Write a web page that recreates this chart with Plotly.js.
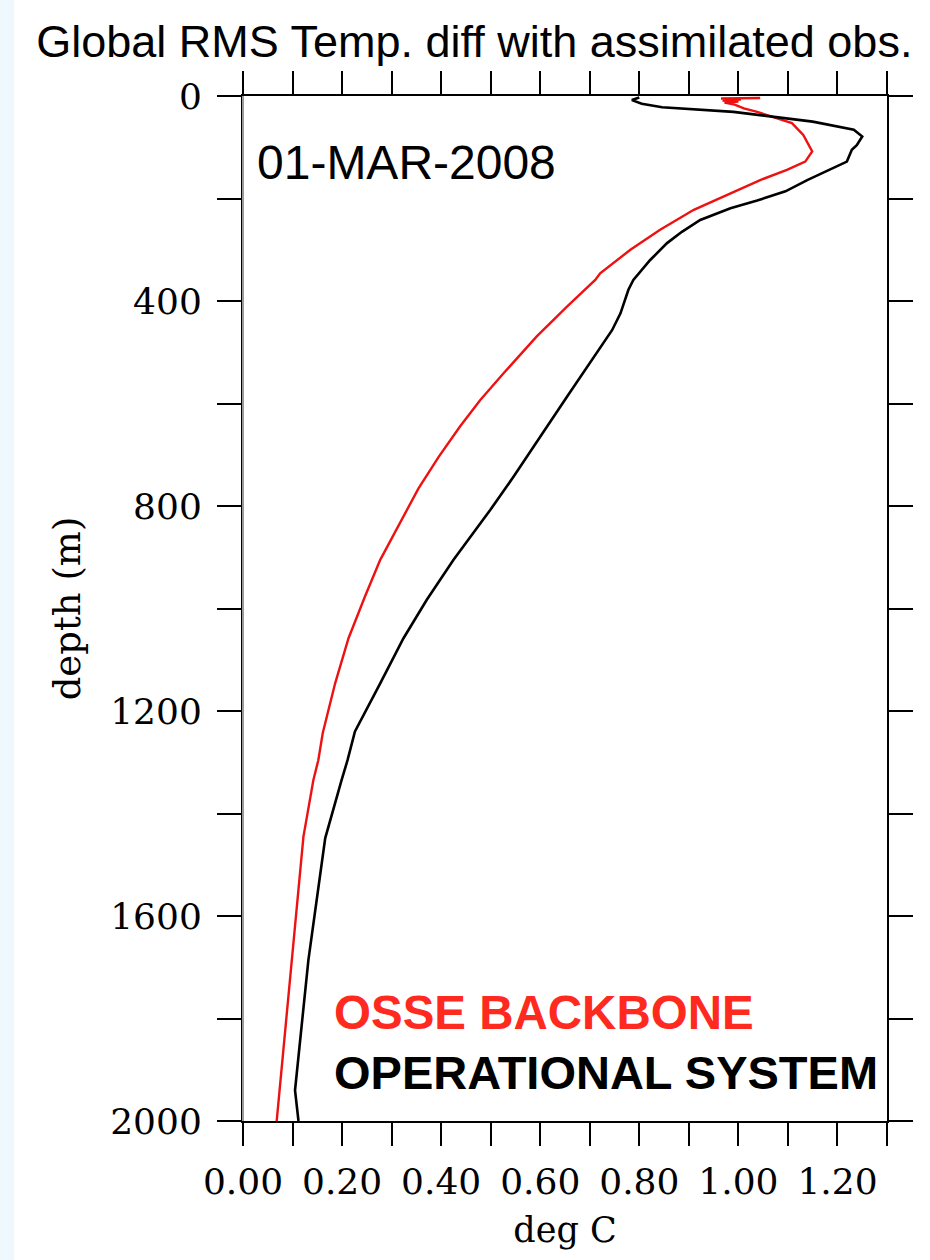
<!DOCTYPE html>
<html>
<head>
<meta charset="utf-8">
<script src="https://cdn.plot.ly/plotly-3.0.1.min.js"></script>
<style>
  html, body { margin: 0; padding: 0; }
  body { background: linear-gradient(to right, #eef8fd 14px, #ffffff 14px); width: 930px; height: 1260px; }
  #chart { width: 930px; height: 1260px; }
</style>
</head>
<body>
<div id="chart"></div>
<script>
// ---- Data ----
const chartTitle = "Global RMS Temp. diff with assimilated obs.";
const dateLabel = "01-MAR-2008";
const seriesNames = ["OSSE BACKBONE", "OPERATIONAL SYSTEM"];

// OSSE BACKBONE (red): RMS temperature difference (deg C) vs depth (m)
const osseDepth = [4, 5, 7, 9, 11, 13, 16, 24, 31, 43, 53, 76, 108, 128, 144, 164, 193, 222, 261, 300, 346, 359, 411, 469, 541, 593, 645, 704, 766, 827, 863, 905, 977, 1058, 1146, 1243, 1296, 1335, 1445, 1718, 2000];
const osseTemp  = [1.044, 0.965, 1.005, 0.968, 1.000, 0.972, 0.990, 1.011, 1.038, 1.078, 1.108, 1.131, 1.149, 1.135, 1.098, 1.044, 0.977, 0.910, 0.842, 0.782, 0.721, 0.711, 0.654, 0.593, 0.526, 0.479, 0.438, 0.395, 0.354, 0.320, 0.300, 0.277, 0.246, 0.213, 0.186, 0.161, 0.152, 0.142, 0.122, 0.095, 0.068];

// OPERATIONAL SYSTEM (black)
const opDepth = [3, 8, 15, 22, 31, 40, 50, 66, 79, 96, 105, 128, 141, 164, 186, 204, 219, 242, 265, 287, 320, 359, 378, 424, 457, 509, 587, 665, 743, 808, 866, 905, 983, 1058, 1146, 1240, 1296, 1335, 1448, 1686, 1940, 2000];
const opTemp  = [0.800, 0.785, 0.805, 0.846, 0.990, 1.070, 1.150, 1.233, 1.250, 1.239, 1.229, 1.219, 1.190, 1.139, 1.095, 1.038, 0.984, 0.923, 0.886, 0.856, 0.822, 0.788, 0.778, 0.762, 0.745, 0.708, 0.654, 0.600, 0.546, 0.499, 0.455, 0.425, 0.371, 0.324, 0.277, 0.226, 0.211, 0.199, 0.166, 0.132, 0.105, 0.112];

// Axis ticks
const xTickVals = [0, 0.1, 0.2, 0.3, 0.4, 0.5, 0.6, 0.7, 0.8, 0.9, 1.0, 1.1, 1.2, 1.3];
const xTickText = ["0.00", "", "0.20", "", "0.40", "", "0.60", "", "0.80", "", "1.00", "", "1.20", ""];
const yTickVals = [0, 200, 400, 600, 800, 1000, 1200, 1400, 1600, 1800, 2000];
const yTickText = ["0", "", "400", "", "800", "", "1200", "", "1600", "", "2000"];
const xTitle = "deg C";
const yTitle = "depth (m)";

// ---- Traces ----
const traces = [
  { x: osseTemp, y: osseDepth, mode: "lines", name: seriesNames[0],
    line: { color: "#ee1111", width: 2.4 } },
  { x: opTemp, y: opDepth, mode: "lines", name: seriesNames[1],
    line: { color: "#000000", width: 2.6 } }
];

const serif = "DejaVu Serif, serif";
const sans = "Liberation Sans, Arial, Helvetica, sans-serif";

const layout = {
  width: 930, height: 1260,
  margin: { l: 243, r: 43, t: 96, b: 139, pad: 0 },
  paper_bgcolor: "rgba(0,0,0,0)",
  plot_bgcolor: "#ffffff",
  showlegend: false,
  title: { text: chartTitle, font: { family: sans, size: 45, color: "#000" },
           x: 0.51, xref: "container", xanchor: "center", y: 0.967, yref: "container", yanchor: "middle" },
  xaxis: {
    range: [0, 1.3], tickmode: "array", tickvals: xTickVals, ticktext: xTickText,
    ticks: "outside", ticklen: 23, tickwidth: 2, tickcolor: "#000",
    showline: true, linecolor: "#000", linewidth: 2, mirror: "allticks",
    showgrid: false, zeroline: false,
    tickfont: { family: serif, size: 36, color: "#000" },
    ticklabelstandoff: 5,
    title: { text: xTitle, font: { family: serif, size: 35, color: "#000" }, standoff: 16 }
  },
  yaxis: {
    range: [2000, 0], tickmode: "array", tickvals: yTickVals, ticktext: yTickText,
    ticks: "outside", ticklen: 24, tickwidth: 2, tickcolor: "#000",
    showline: true, linecolor: "#000", linewidth: 2, mirror: "allticks",
    showgrid: false, zeroline: false,
    tickfont: { family: serif, size: 36, color: "#000" },
    ticklabelstandoff: 8,
    title: { text: yTitle, font: { family: serif, size: 37, color: "#000" }, standoff: 18 }
  },
  shapes: [
    { type: "line", xref: "paper", yref: "paper", x0: 0, x1: 0, y0: 0, y1: 1,
      line: { color: "#9a9a9a", width: 2 }, layer: "above" }
  ],
  annotations: [
    { text: dateLabel, xref: "paper", yref: "paper", x: 0.0186, y: 0.9356,
      xanchor: "left", yanchor: "middle", showarrow: false,
      font: { family: sans, size: 48, color: "#000" } },
    { text: "<b>" + seriesNames[0] + "</b>", xref: "paper", yref: "paper", x: 0.138, y: 0.1063,
      xanchor: "left", yanchor: "middle", showarrow: false,
      font: { family: sans, size: 47.5, color: "#ff2a1f" } },
    { text: "<b>" + seriesNames[1] + "</b>", xref: "paper", yref: "paper", x: 0.138, y: 0.0478,
      xanchor: "left", yanchor: "middle", showarrow: false,
      font: { family: sans, size: 47, color: "#000" } }
  ]
};

Plotly.newPlot("chart", traces, layout, { displayModeBar: false, staticPlot: true });
</script>
</body>
</html>
